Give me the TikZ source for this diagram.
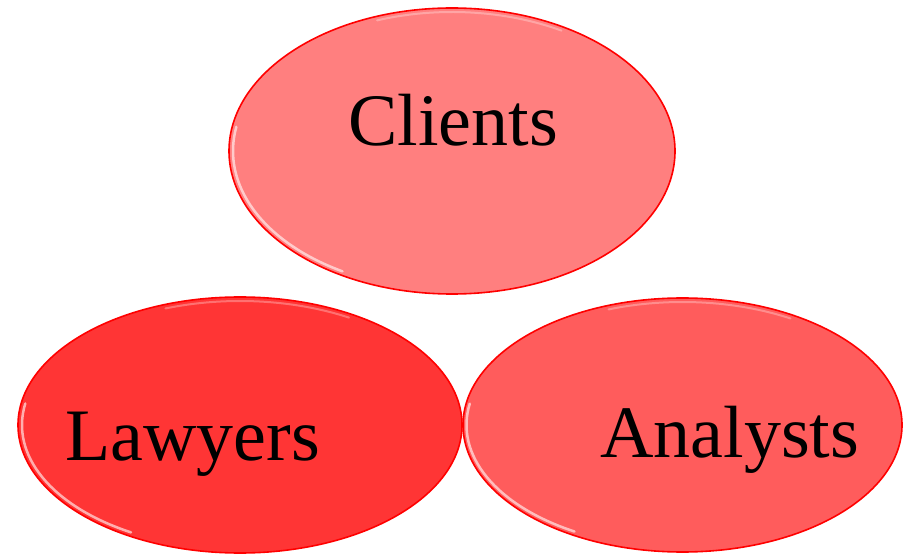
\documentclass[tikz,border=0pt]{standalone}
\usepackage{fontspec}
\setmainfont{Liberation Serif}
\usetikzlibrary{shapes.geometric}
\definecolor{cliFill}{HTML}{FF7F7F}
\definecolor{lawFill}{HTML}{FF3535}
\definecolor{anaFill}{HTML}{FF5C5C}
\definecolor{rimRed}{HTML}{FF0000}
\tikzset{
  bubble/.style={ellipse, draw=rimRed, line width=1.6pt, inner sep=0pt},
  label text/.style={anchor=base west, inner sep=0pt, font=\fontsize{74}{80}\selectfont, text=black},
  gloss/.style={white, line width=2.5pt, opacity=0.6, line cap=round},
  sheen/.style={white, line width=2pt, opacity=0.3, line cap=round}
}
\begin{document}
\begin{tikzpicture}[x=1pt,y=1pt]
\useasboundingbox (0,0) rectangle (907,557);
% ellipses
\node[bubble, fill=cliFill, minimum width=446pt, minimum height=286pt] (clients) at (452,406) {};
\node[bubble, fill=lawFill, minimum width=444pt, minimum height=256pt] (lawyers) at (240,132) {};
\node[bubble, fill=anaFill, minimum width=439pt, minimum height=254pt] (analysts) at (682.5,132) {};
% glossy rims
\draw[gloss] (clients.center) ++(170:219 and 139) arc[start angle=170, end angle=240, x radius=219, y radius=139];
\draw[sheen] (clients.center) ++(110:219 and 139) arc[start angle=110, end angle=60, x radius=219, y radius=139];
\draw[gloss] (lawyers.center) ++(170:218 and 124) arc[start angle=170, end angle=240, x radius=218, y radius=124];
\draw[sheen] (lawyers.center) ++(110:218 and 124) arc[start angle=110, end angle=60, x radius=218, y radius=124];
\draw[gloss] (analysts.center) ++(170:216 and 123) arc[start angle=170, end angle=240, x radius=216, y radius=123];
\draw[sheen] (analysts.center) ++(110:216 and 123) arc[start angle=110, end angle=60, x radius=216, y radius=123];
% texts
\node[label text] (tclients) at (348,411) {Clients};
\node[label text] (tlawyers) at (65,97) {Lawyers};
\node[label text] (tanalysts) at (600,100) {Analysts};
\end{tikzpicture}
\end{document}
